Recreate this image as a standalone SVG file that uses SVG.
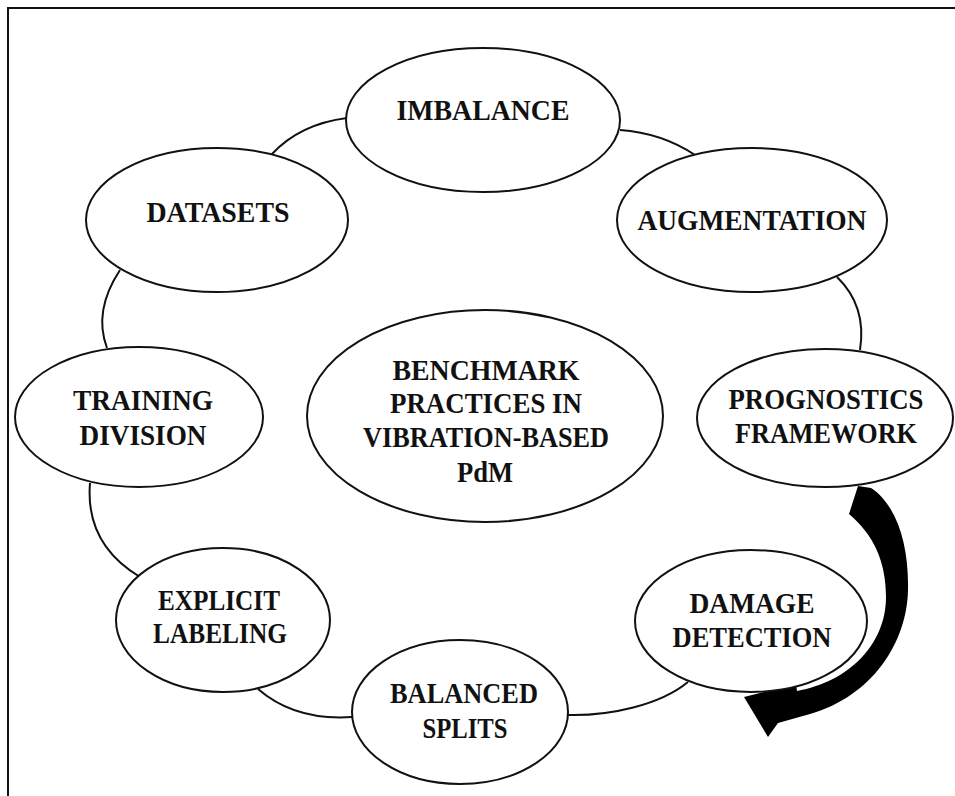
<svg xmlns="http://www.w3.org/2000/svg" width="955" height="796" viewBox="0 0 955 796">
  <style>
    .node ellipse { fill: #ffffff; stroke: #111111; stroke-width: 2; }
    .node text { font-family: "Liberation Serif", "Times New Roman", serif; font-weight: bold; font-size: 30px; fill: #111111; text-anchor: middle; }
    .link { fill: none; stroke: #111111; stroke-width: 2; }
    .frame { fill: none; stroke: #111111; stroke-width: 2; }
  </style>

  <rect width="955" height="796" fill="#ffffff"/>

  <!-- outer frame (open to the right and bottom) -->
  <path class="frame" d="M 8,796 L 8,8 L 955,8"/>

  <!-- ring connectors between the surrounding nodes -->
  <g id="connectors">
    <path class="link" d="M 347,118 Q 300,124 272,154"/>
    <path class="link" d="M 620,130 Q 662,133 695,155"/>
    <path class="link" d="M 837,277 Q 867,306 860,350"/>
    <path class="link" d="M 120,270 Q 93,311 107,348"/>
    <path class="link" d="M 90,483 Q 85,544 140,577"/>
    <path class="link" d="M 258,689 Q 295,721 352,717"/>
    <path class="link" d="M 568,715 C 610,716 660,705 688,682"/>
    <!-- curved block arrow from PROGNOSTICS FRAMEWORK to DAMAGE DETECTION -->
    <path id="flow-arrow" fill="#000000" d="M 858,486 L 871,488 C 897,505 909,545 908,590 C 907,642 873,696 810,714 L 778,723 L 768,737 L 744,697 L 796,684 L 797,691 C 848,682 886,645 886,597 C 886,562 874,535 849,514 Z"/>
  </g>

  <g id="imbalance" class="node">
    <ellipse cx="483" cy="120" rx="137" ry="72"/>
    <text x="483" y="120" textLength="173" lengthAdjust="spacingAndGlyphs">IMBALANCE</text>
  </g>

  <g id="datasets" class="node">
    <ellipse cx="217" cy="220" rx="131" ry="72"/>
    <text x="218" y="222" textLength="143" lengthAdjust="spacingAndGlyphs">DATASETS</text>
  </g>

  <g id="augmentation" class="node">
    <ellipse cx="752" cy="220" rx="135" ry="72"/>
    <text x="752" y="230" textLength="229" lengthAdjust="spacingAndGlyphs">AUGMENTATION</text>
  </g>

  <g id="benchmark" class="node">
    <ellipse cx="485" cy="416" rx="178" ry="106"/>
    <text x="486" y="380" textLength="187" lengthAdjust="spacingAndGlyphs">BENCHMARK</text>
    <text x="486" y="413" textLength="192" lengthAdjust="spacingAndGlyphs">PRACTICES IN</text>
    <text x="486" y="447" textLength="246" lengthAdjust="spacingAndGlyphs">VIBRATION-BASED</text>
    <text x="485" y="482" textLength="56" lengthAdjust="spacingAndGlyphs">PdM</text>
  </g>

  <g id="training-division" class="node">
    <ellipse cx="139" cy="417" rx="124" ry="70"/>
    <text x="143" y="410" textLength="140" lengthAdjust="spacingAndGlyphs">TRAINING</text>
    <text x="143" y="445" textLength="127" lengthAdjust="spacingAndGlyphs">DIVISION</text>
  </g>

  <g id="prognostics-framework" class="node">
    <ellipse cx="825" cy="418" rx="128" ry="69"/>
    <text x="826" y="409" textLength="195" lengthAdjust="spacingAndGlyphs">PROGNOSTICS</text>
    <text x="826" y="443" textLength="182" lengthAdjust="spacingAndGlyphs">FRAMEWORK</text>
  </g>

  <g id="explicit-labeling" class="node">
    <ellipse cx="223" cy="620" rx="107" ry="72"/>
    <text x="219" y="610" textLength="122" lengthAdjust="spacingAndGlyphs">EXPLICIT</text>
    <text x="220" y="643" textLength="134" lengthAdjust="spacingAndGlyphs">LABELING</text>
  </g>

  <g id="damage-detection" class="node">
    <ellipse cx="751" cy="621" rx="116" ry="71"/>
    <text x="752" y="613" textLength="125" lengthAdjust="spacingAndGlyphs">DAMAGE</text>
    <text x="752" y="647" textLength="159" lengthAdjust="spacingAndGlyphs">DETECTION</text>
  </g>

  <g id="balanced-splits" class="node">
    <ellipse cx="460" cy="712" rx="108" ry="72"/>
    <text x="464" y="703" textLength="148" lengthAdjust="spacingAndGlyphs">BALANCED</text>
    <text x="465" y="738" textLength="85" lengthAdjust="spacingAndGlyphs">SPLITS</text>
  </g>
</svg>
